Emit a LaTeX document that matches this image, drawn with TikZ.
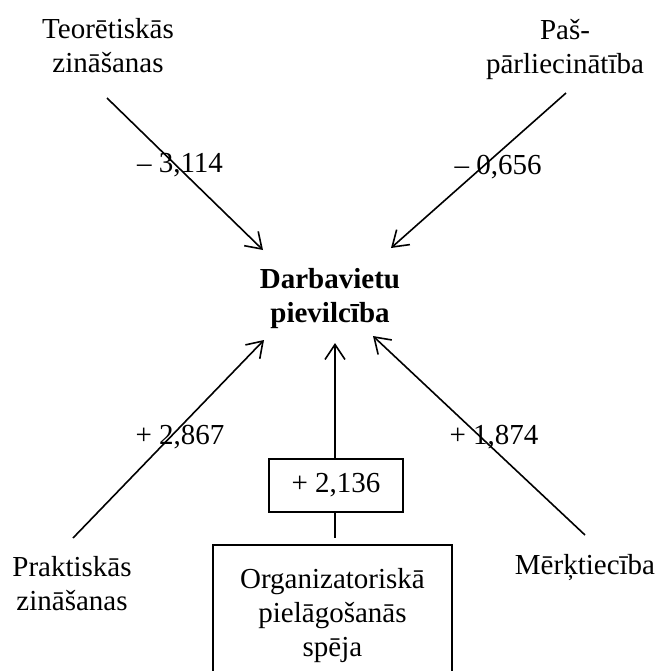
\documentclass[tikz,border=0pt]{standalone}
\usepackage{fontspec}
\setmainfont{Liberation Serif}
\usetikzlibrary{arrows.meta}
\begin{document}
\begin{tikzpicture}[x=0.5pt,y=-0.5pt,
  every node/.style={font=\fontsize{14.5}{17}\selectfont},
  lbl/.style={align=center, inner sep=0pt},
  arr/.style={line width=0.8pt, -{Straight Barb[length=7.5pt,width=10pt,line width=0.8pt]}},
  plain/.style={line width=0.8pt},
  frame/.style={draw, line width=0.8pt, inner sep=0pt, align=center},
]
\useasboundingbox (0,0) rectangle (659,671);

% factor names
\node[lbl] (teor) at (108,46) {Teorētiskās\\zināšanas};
\node[lbl] (pas)  at (565,49) {Paš-\\pārliecinātība};
\node[lbl] (prak) at (72,584) {Praktiskās\\zināšanas};
\node[lbl, anchor=base] (merk) at (585,574) {Mērķtiecība};

% central outcome
\node[lbl, font=\fontsize{14.5}{17}\selectfont\bfseries] (dv) at (330,299) {Darbavietu\\pievilcība};

% coefficient box and the organisational factor box
\node[frame, minimum width=67pt, minimum height=26.5pt] (val) at (336,485.5) {+ 2,136};
\node[frame, minimum width=119.5pt, minimum height=71pt] (org) at (332.5,616) {Organizatoriskā\\pielāgošanās\\spēja};

% arrow start points next to each factor
\coordinate (teorOut) at (107,98);
\coordinate (pasOut)  at (566,93);
\coordinate (prakOut) at (73,538);
\coordinate (merkOut) at (585,535);
\coordinate (stub)    at (335,538);

% arrow tips around the outcome
\coordinate (inTL) at ([shift={(-67,-49)}]dv.center);
\coordinate (inTR) at ([shift={(61,-51)}]dv.center);
\coordinate (inBL) at ([shift={(-66,41)}]dv.center);
\coordinate (inB)  at ([shift={(5,44)}]dv.center);
\coordinate (inBR) at ([shift={(43,37)}]dv.center);

\draw[arr] (teorOut) -- (inTL);
\draw[arr] (pasOut) -- (inTR);
\draw[arr] (prakOut) -- (inBL);
\draw[arr] (merkOut) -- (inBR);
\draw[arr] (val.north -| inB) -- (inB);
\draw[plain] (val.south -| stub) -- (stub);

% coefficients
\node[lbl] (w1) at (180,165) {– 3,114};
\node[lbl] (w2) at (498,167) {– 0,656};
\node[lbl] (w3) at (180,437) {+ 2,867};
\node[lbl] (w4) at (494,437) {+ 1,874};
\end{tikzpicture}
\end{document}
